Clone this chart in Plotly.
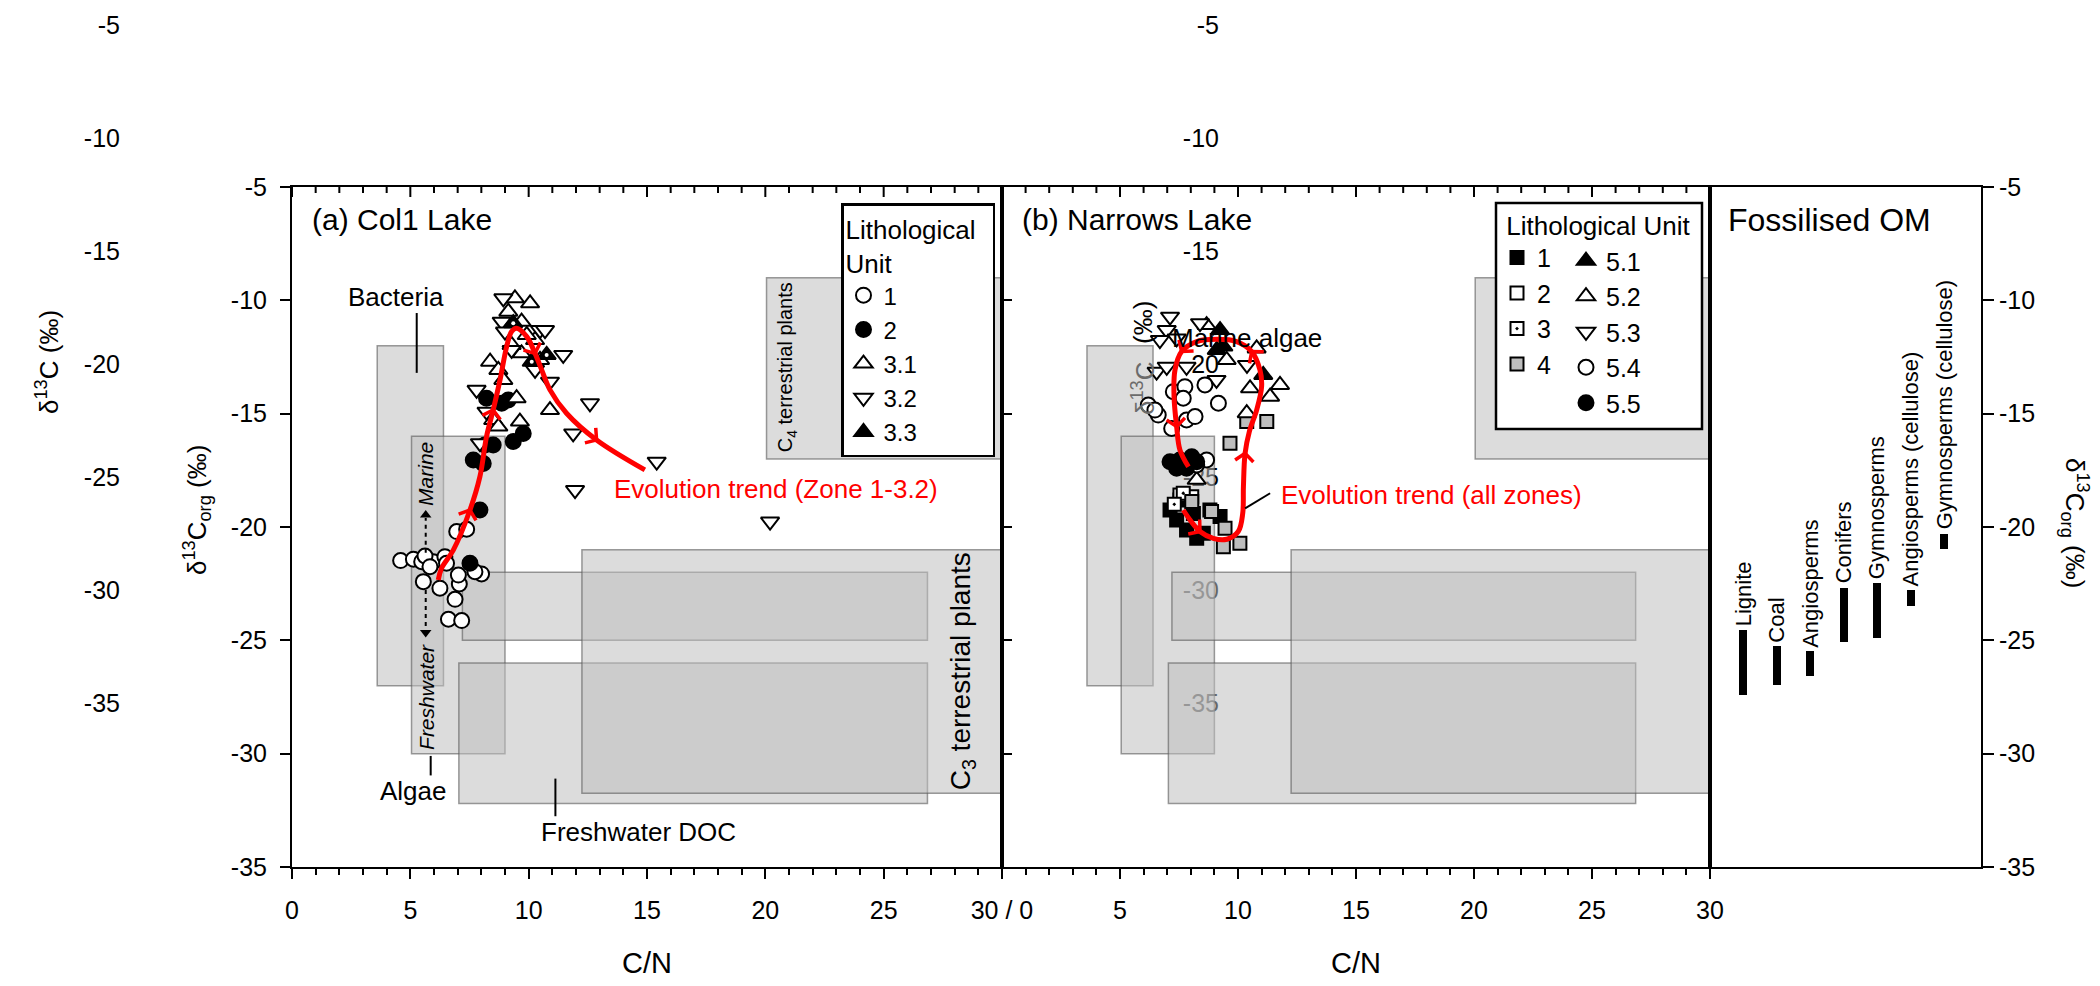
import math
import plotly.graph_objects as go

W, H = 2100, 986

# ---------------- data ----------------
# Panel (a) Col1 Lake : C/N and d13C by lithological unit
a_u1_cn = [4.59, 5.13, 5.48, 5.97, 5.62, 6.46, 5.55, 6.25, 7.07, 6.89, 6.61, 7.17, 8.01, 7.73, 7.03, 6.53, 5.83, 6.96, 7.38]
a_u1_d13 = [-21.48, -21.42, -21.53, -21.53, -21.28, -21.31, -22.41, -22.70, -22.51, -23.19, -24.07, -24.13, -22.07, -21.97, -22.12, -21.60, -21.75, -20.20, -20.10]
a_u2_cn = [7.52, 7.94, 7.66, 8.08, 8.15, 8.50, 9.35, 9.77, 8.22, 8.86, 9.14]
a_u2_d13 = [-21.60, -19.25, -17.04, -17.20, -16.38, -16.38, -16.23, -15.87, -14.32, -14.54, -14.40]
a_u31_cn = [9.42, 10.06, 9.70, 9.14, 8.37, 8.72, 9.49, 10.90, 9.70, 10.27, 10.48, 8.93, 9.92, 9.28, 8.50, 8.72, 9.63]
a_u31_d13 = [-9.91, -10.13, -10.94, -10.50, -12.71, -13.07, -14.32, -14.84, -12.34, -11.75, -12.63, -13.51, -11.53, -11.97, -15.28, -15.57, -15.35]
a_u32_cn = [8.93, 8.86, 9.00, 10.48, 11.46, 12.59, 11.88, 15.41, 11.96, 7.80, 7.94, 8.22, 10.90, 10.27, 10.69, 9.28, 20.20]
a_u32_d13 = [-9.91, -10.94, -11.38, -11.31, -12.41, -14.54, -15.87, -17.12, -18.37, -13.95, -16.30, -14.91, -13.59, -13.07, -11.31, -12.19, -19.76]
a_u33_cn = [9.35, 10.76, 10.13]
a_u33_d13 = [-11.01, -12.41, -12.71]
trend_a_cn = [6.18, 6.32, 6.82, 7.52, 7.94, 8.22, 8.50, 8.79, 9.07, 9.28, 9.49, 9.92, 10.27, 10.55, 10.90, 11.60, 12.87, 14.91]
trend_a_d13 = [-22.34, -21.82, -21.01, -19.25, -17.78, -16.01, -14.84, -13.51, -12.04, -11.38, -11.23, -11.60, -12.34, -13.07, -13.95, -14.98, -16.16, -17.48]

# Panel (b) Narrows Lake
b_u1_cn = [7.12, 7.40, 7.82, 8.25, 8.81, 9.24, 8.11, 7.54, 8.53]
b_u1_d13 = [-19.25, -19.69, -20.13, -20.50, -19.25, -19.54, -19.40, -18.81, -20.28]
b_u2_cn = [7.54, 8.04]
b_u2_d13 = [-18.59, -18.66]
b_u3_cn = [7.68, 7.30]
b_u3_d13 = [-18.51, -19.00]
b_u4_cn = [8.04, 8.88, 9.45, 9.38, 10.08, 9.66, 10.37, 11.22]
b_u4_d13 = [-18.88, -19.32, -20.06, -20.87, -20.72, -16.30, -15.35, -15.35]
b_u51_cn = [9.24, 9.38, 9.10, 11.07]
b_u51_d13 = [-11.31, -12.04, -12.19, -13.29]
b_u52_cn = [8.67, 10.79, 11.78, 10.51, 11.36, 10.37, 9.52, 8.25]
b_u52_d13 = [-11.09, -12.12, -13.73, -13.88, -14.25, -14.98, -12.63, -17.92]
b_u53_cn = [7.12, 6.98, 8.39, 7.40, 6.55, 6.98, 7.82, 9.09, 6.69, 10.38]
b_u53_d13 = [-10.72, -11.31, -11.01, -11.68, -13.15, -12.93, -12.93, -13.51, -11.75, -12.85]
b_u54_cn = [7.26, 7.75, 8.60, 9.17, 6.20, 6.62, 7.19, 7.82, 8.18, 6.48, 7.68, 8.67, 8.25]
b_u54_d13 = [-14.03, -13.81, -13.73, -14.54, -14.62, -15.06, -15.65, -15.28, -15.13, -14.84, -14.32, -17.04, -17.26]
b_u55_cn = [7.12, 7.54, 8.04, 7.82, 7.40, 8.25]
b_u55_d13 = [-17.12, -17.04, -16.90, -17.41, -17.41, -17.12]
trend_b_cn = [7.68, 7.97, 8.39, 8.95, 9.52, 10.01, 10.20, 10.23, 10.30, 10.48, 10.79, 11.00, 10.93, 10.58, 9.94, 9.10, 8.25, 7.61, 7.33, 7.29, 7.40, 7.54, 7.90]
trend_b_d13 = [-19.25, -19.69, -20.20, -20.50, -20.54, -20.20, -19.40, -18.22, -16.75, -15.79, -14.84, -13.81, -13.07, -12.26, -11.82, -11.72, -11.82, -12.26, -13.07, -14.25, -15.57, -16.60, -17.34]

# Source end-member fields (C/N min/max, d13C min/max)
box_names = ["Bacteria", "Algae", "Freshwater DOC", "Marine DOC", "C3 terrestrial plants", "C4 terrestrial plants"]
box_cn_min = [3.6, 5.05, 7.05, 7.2, 12.25, 20.05]
box_cn_max = [6.4, 9.0, 26.85, 26.85, 35.0, 35.0]
box_d13_min = [-27.0, -30.0, -32.2, -25.0, -31.75, -17.0]
box_d13_max = [-12.0, -16.0, -26.0, -22.0, -21.0, -9.0]

# Panel (c) Fossilised OM ranges
fossil_names = ["Lignite", "Coal", "Angiosperms", "Conifers", "Gymnosperms",
                "Angiosperms (cellulose)", "Gymnosperms (cellulose)"]
fossil_pos = [1, 2, 3, 4, 5, 6, 7]
fossil_top = [-24.56, -25.26, -25.49, -22.67, -22.49, -22.79, -20.29]
fossil_bottom = [-27.40, -26.98, -26.57, -25.09, -24.91, -23.48, -20.98]

# Tick labels
y_ticks = [-5, -10, -15, -20, -25, -30, -35]
y_ticktext = ["-5", "-10", "-15", "-20", "-25", "-30", "-35"]
a_x_ticks = [0, 5, 10, 15, 20, 25, 30]
a_x_ticktext = ["0", "5", "10", "15", "20", "25", "30 / 0"]
b_x_ticks = [5, 10, 15, 20, 25, 30]
b_x_ticktext = ["5", "10", "15", "20", "25", "30"]
top_minor_ticks = list(range(0, 31))

# ---------------- styling helpers ----------------
FONT = "Liberation Sans, Arial, sans-serif"
K = "#000000"
RED = "#ff0000"
TICKF = dict(family=FONT, size=25, color=K)
SX = 708 / 30.0   # px per C/N unit
SY = 680 / 30.0   # px per permil


def px(xp):
    return xp / W


def py(yp):
    return 1 - yp / H


fig = go.Figure()

# stray duplicated axes (drawn first, under everything)
fig.add_trace(go.Scatter(x=[], y=[], xaxis="x", yaxis="y", showlegend=False))
fig.add_trace(go.Scatter(x=[], y=[], xaxis="x2", yaxis="y2", showlegend=False))


def pts(cn, d13, name, symbol, color, size, xa, ya, legend, showlegend=True, lw=2):
    fig.add_trace(go.Scatter(
        x=cn, y=d13, mode="markers", name=name, legend=legend, showlegend=showlegend,
        xaxis=xa, yaxis=ya, hoverinfo="skip", cliponaxis=False,
        marker=dict(symbol=symbol, color=color, size=size, line=dict(color=K, width=lw))))


def chevron_trace(cn, d13, idxs, xa, ya, length=12, half=50):
    xs, ys = [], []
    th = math.radians(half)
    for i in idxs:
        ux = (cn[i + 1] - cn[i - 1]) * SX
        uy = (d13[i + 1] - d13[i - 1]) * SY
        n = math.hypot(ux, uy)
        bx, by = -ux / n, -uy / n
        for s in (1, -1):
            rx = bx * math.cos(s * th) - by * math.sin(s * th)
            ry = bx * math.sin(s * th) + by * math.cos(s * th)
            if s == 1:
                xs += [cn[i] + length * rx / SX, cn[i]]
                ys += [d13[i] + length * ry / SY, d13[i]]
            else:
                xs += [cn[i] + length * rx / SX, None]
                ys += [d13[i] + length * ry / SY, None]
    fig.add_trace(go.Scatter(x=xs, y=ys, mode="lines", xaxis=xa, yaxis=ya, showlegend=False,
                             hoverinfo="skip", line=dict(color=RED, width=3.5)))


# Panel a
pts(a_u1_cn, a_u1_d13, "1", "circle", "white", 15, "x3", "y3", "legend")
pts(a_u2_cn, a_u2_d13, "2", "circle", "black", 15, "x3", "y3", "legend")
pts(a_u31_cn, a_u31_d13, "3.1", "triangle-up", "white", 16, "x3", "y3", "legend")
pts(a_u32_cn, a_u32_d13, "3.2", "triangle-down", "white", 16, "x3", "y3", "legend")
pts(a_u33_cn, a_u33_d13, "3.3", "triangle-up", "black", 16, "x3", "y3", "legend")
pts(a_u33_cn, a_u33_d13, "3.3 dot", "circle", "white", 4, "x3", "y3", "legend", showlegend=False, lw=0)
fig.add_trace(go.Scatter(x=trend_a_cn, y=trend_a_d13, mode="lines", xaxis="x3", yaxis="y3",
                         line=dict(color=RED, width=5, shape="spline"), showlegend=False, hoverinfo="skip"))
chevron_trace(trend_a_cn, trend_a_d13, [3, 6, 12, 16], "x3", "y3")

# Marine / Freshwater arrowheads (tips of the dashed arrows)
arrow_x = [5.65, 5.65]
arrow_tip = [-19.25, -24.87]
fig.add_trace(go.Scatter(x=arrow_x, y=[arrow_tip[0] - 5 / SY, arrow_tip[1] + 5 / SY], mode="markers",
                         xaxis="x3", yaxis="y3", showlegend=False, hoverinfo="skip",
                         marker=dict(symbol=["triangle-up", "triangle-down"], size=10, color=K,
                                     line=dict(width=0))))

# Panel b
pts(b_u1_cn, b_u1_d13, "1", "square", "black", 13, "x4", "y4", "legend2")
pts(b_u2_cn, b_u2_d13, "2", "square", "white", 13, "x4", "y4", "legend2")
pts(b_u3_cn, b_u3_d13, "3", "square-dot", "white", 13, "x4", "y4", "legend2")
pts(b_u4_cn, b_u4_d13, "4", "square", "#bdbdbd", 13, "x4", "y4", "legend2")
pts(b_u51_cn, b_u51_d13, "5.1", "triangle-up", "black", 16, "x4", "y4", "legend3")
pts(b_u52_cn, b_u52_d13, "5.2", "triangle-up", "white", 16, "x4", "y4", "legend3")
pts(b_u53_cn, b_u53_d13, "5.3", "triangle-down", "white", 16, "x4", "y4", "legend3")
pts(b_u54_cn, b_u54_d13, "5.4", "circle", "white", 15, "x4", "y4", "legend3")
pts(b_u55_cn, b_u55_d13, "5.5", "circle", "black", 15, "x4", "y4", "legend3")
fig.add_trace(go.Scatter(x=trend_b_cn, y=trend_b_d13, mode="lines", xaxis="x4", yaxis="y4",
                         line=dict(color=RED, width=5, shape="spline"), showlegend=False, hoverinfo="skip"))
chevron_trace(trend_b_cn, trend_b_d13, [2, 8, 13, 17, 20], "x4", "y4")

# Panel c
fig.add_trace(go.Bar(x=fossil_pos, y=[t - b for t, b in zip(fossil_top, fossil_bottom)], base=fossil_bottom,
                     width=0.24, marker=dict(color=K, line=dict(width=0)), xaxis="x5", yaxis="y5",
                     showlegend=False, hoverinfo="skip"))

# ---------------- boxes ----------------
shapes = []
for xr, yr in (("x3", "y3"), ("x4", "y4")):
    for i in range(len(box_names)):
        shapes.append(dict(type="rect", xref=xr, yref=yr, layer="below",
                           x0=box_cn_min[i], x1=box_cn_max[i], y0=box_d13_min[i], y1=box_d13_max[i],
                           fillcolor="rgba(190,190,190,0.54)", line=dict(color="rgba(90,90,90,0.6)", width=1.5)))
    # inward-pointing tick marks along the top frame
    path = ""
    for t in top_minor_ticks:
        ln = (10 if t % 5 == 0 else 6) / SY
        path += "M{},{} L{},{} ".format(t, -5, t, -5 - ln)
    shapes.append(dict(type="path", xref=xr, yref=yr, layer="above", path=path.strip(),
                       line=dict(color=K, width=2)))


def seg(xr, yr, x0, y0, x1, y1, dash="solid", width=2):
    shapes.append(dict(type="line", xref=xr, yref=yr, layer="above", x0=x0, y0=y0, x1=x1, y1=y1,
                       line=dict(color=K, width=width, dash=dash)))


seg("x3", "y3", 5.27, -10.56, 5.27, -13.2)
seg("x3", "y3", 5.86, -30.1, 5.86, -30.96)
seg("x3", "y3", 11.13, -31.1, 11.13, -32.76)
seg("x3", "y3", 5.65, -21.14, 5.65, -19.6, dash="4px,4px")
seg("x3", "y3", 5.65, -22.78, 5.65, -24.55, dash="4px,4px")
seg("x4", "y4", 11.36, -18.51, 10.3, -19.18)
# frame of the two-column legend in panel b
shapes.append(dict(type="rect", xref="paper", yref="paper", layer="above",
                   x0=px(1496), x1=px(1702), y0=py(429), y1=py(203),
                   fillcolor="white", line=dict(color=K, width=2.5)))

# ---------------- annotations ----------------
ann = []


def txt(text, x, y, xref="paper", yref="paper", size=26, color=K, angle=0, xanchor="center",
        yanchor="middle", style="normal"):
    ann.append(dict(text=text, x=x, y=y, xref=xref, yref=yref, showarrow=False, textangle=angle,
                    xanchor=xanchor, yanchor=yanchor,
                    font=dict(family=FONT, size=size, color=color, style=style)))


txt("(a) Col1 Lake", px(310), py(220), size=30, xanchor="left")
txt("(b) Narrows Lake", px(1020), py(220), size=30, xanchor="left")
txt("Fossilised OM", px(1726), py(220), size=32, xanchor="left")
txt("C/N", px(647), py(963), size=29)
txt("C/N", px(1356), py(963), size=29)
txt("δ<sup>13</sup>C<sub>org</sub> (‰)", px(197), py(510), size=26, angle=-90)
txt("δ<sup>13</sup>C<sub>org</sub> (‰)", px(2075), py(523), size=26, angle=90)
txt("δ<sup>13</sup>C (‰)", px(47), py(362), size=26, angle=-90)
txt("(‰)", px(1143), py(323), size=26, angle=-90)
txt("δ<sup>13</sup>C", px(1143), py(388), size=26, angle=-90, color="#6b6b6b")

txt("Bacteria", 4.38, -9.85, "x3", "y3")
txt("Algae", 5.15, -31.63, "x3", "y3")
txt("Freshwater DOC", 14.62, -33.44, "x3", "y3")
txt("C<sub>4</sub> terrestrial plants", 20.91, -12.96, "x3", "y3", size=20, angle=-90)
txt("C<sub>3</sub> terrestrial plants", 28.34, -26.38, "x3", "y3", size=28, angle=-90)
txt("Marine", 5.66, -17.66, "x3", "y3", size=21, angle=-90, style="italic")
txt("Freshwater", 5.66, -27.5, "x3", "y3", size=21, angle=-90, style="italic")
txt("Evolution trend (Zone 1-3.2)", 20.45, -18.32, "x3", "y3", color=RED)
txt("Marine algae", 7.12, -11.66, "x4", "y4", xanchor="left")
txt("Evolution trend (all zones)", 18.18, -18.59, "x4", "y4", color=RED)

# fossil labels above bars
for i, nm in enumerate(fossil_names):
    ann.append(dict(text=nm, x=fossil_pos[i], y=fossil_top[i], xref="x5", yref="y5", showarrow=False,
                    textangle=-90, xanchor="center", yanchor="bottom", yshift=2,
                    font=dict(family=FONT, size=22, color=K)))

# ---------------- axes ----------------
YD = [py(867), py(187)]
SD = [py(703), py(25)]
common_line = dict(showline=True, linecolor=K, linewidth=2, showgrid=False, zeroline=False)


def stray_y(pos):
    return dict(domain=SD, anchor="free", position=pos, range=[-35, -5], tickmode="array",
                tickvals=y_ticks, ticktext=y_ticktext,
                ticks="", showline=False, showgrid=False, zeroline=False, tickfont=TICKF)


def xbottom(dom, ticks, text, anchor):
    return dict(domain=dom, anchor=anchor, range=[0, 30], tickmode="array", tickvals=ticks, ticktext=text,
                ticks="outside", ticklen=10, tickwidth=2, tickcolor=K, mirror=True, tickfont=TICKF,
                ticklabelstandoff=10,
                minor=dict(tickmode="linear", tick0=0, dtick=1, ticks="outside", ticklen=6, tickwidth=2,
                           tickcolor=K, showgrid=False), **common_line)


LEGF = dict(family=FONT, size=24, color=K)
LEGF_B = dict(family=FONT, size=25, color=K)
TITF = dict(family=FONT, size=26, color=K)

fig.update_layout(
    width=W, height=H, margin=dict(l=0, r=0, t=0, b=0, autoexpand=False),
    paper_bgcolor="white", plot_bgcolor="rgba(0,0,0,0)",
    font=dict(family=FONT, size=25, color=K),
    xaxis=dict(domain=[0, 1], anchor="y", visible=False, range=[0, 1]),
    yaxis=stray_y(px(120)),
    xaxis2=dict(domain=[0, 1], anchor="y2", visible=False, range=[0, 1]),
    yaxis2=stray_y(px(1219)),
    xaxis3=xbottom([px(292), px(1002)], a_x_ticks, a_x_ticktext, "y3"),
    yaxis3=dict(domain=YD, anchor="x3", range=[-35, -5], tickmode="array", tickvals=y_ticks,
                ticktext=y_ticktext, ticks="outside", ticklen=10,
                tickwidth=2, tickcolor=K, mirror=True, tickfont=TICKF, ticklabelstandoff=8, **common_line),
    xaxis4=xbottom([px(1002), px(1710)], b_x_ticks, b_x_ticktext, "y4"),
    yaxis4=dict(domain=YD, anchor="x4", range=[-35, -5], tickvals=y_ticks, ticks="inside", ticklen=10,
                tickwidth=2, tickcolor=K, mirror=True, showticklabels=False, **common_line),
    xaxis5=dict(domain=[px(1710), px(1981)], anchor="y5", range=[0, 8.1], ticks="", showticklabels=False,
                mirror=True, **common_line),
    yaxis5=dict(domain=YD, anchor="x5", side="right", range=[-35, -5], tickmode="array", tickvals=y_ticks,
                ticktext=y_ticktext, ticks="outside",
                ticklen=11, tickwidth=2, tickcolor=K, mirror=True, tickfont=TICKF, **common_line),
    shapes=shapes,
    annotations=ann,
    legend=dict(x=px(841), y=py(203), xanchor="left", yanchor="top", bgcolor="white", bordercolor=K,
                borderwidth=2.5, font=LEGF, tracegroupgap=0,
                title=dict(text="Lithological&nbsp;&nbsp;<br>Unit", font=TITF)),
    legend2=dict(x=px(1497), y=py(201), xanchor="left", yanchor="top", bgcolor="rgba(0,0,0,0)",
                 borderwidth=0, font=LEGF_B, tracegroupgap=0,
                 title=dict(text="&nbsp;Lithological Unit", font=TITF)),
    legend3=dict(x=px(1566), y=py(238), xanchor="left", yanchor="top", bgcolor="rgba(0,0,0,0)",
                 borderwidth=0, font=LEGF_B, tracegroupgap=0),
    bargap=0,
)

fig.write_html("out.html")
